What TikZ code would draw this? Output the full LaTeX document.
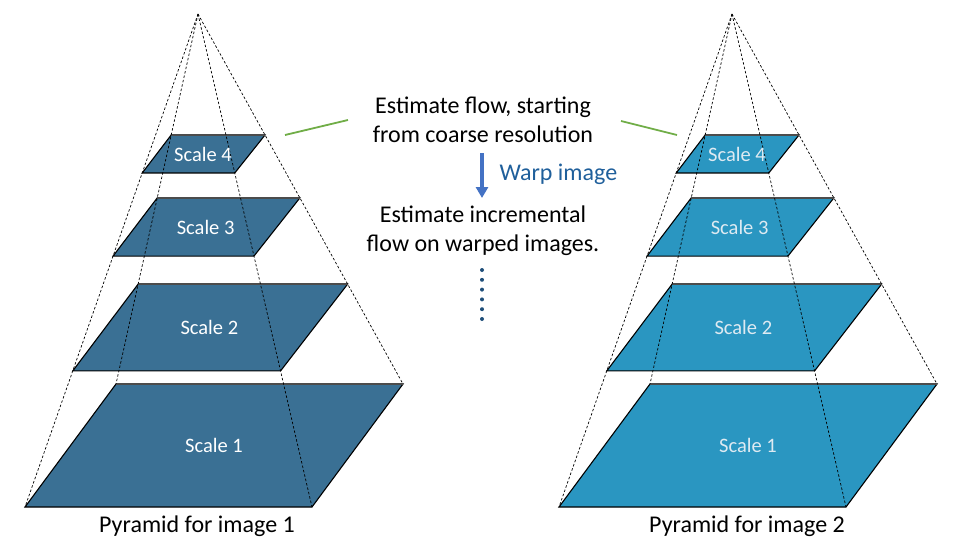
\documentclass[tikz,border=0pt]{standalone}
\usepackage{fontspec}
\setmainfont{Carlito}
\usetikzlibrary{calc,arrows.meta}

\definecolor{layerone}{RGB}{58,112,148}
\definecolor{layertwo}{RGB}{42,150,193}
\definecolor{labeltwo}{RGB}{222,234,242}
\definecolor{linkgreen}{RGB}{112,173,71}
\definecolor{warpblue}{RGB}{68,114,196}
\definecolor{warptext}{RGB}{31,95,155}
\definecolor{dotblue}{RGB}{31,78,121}

\tikzset{
  layeredge/.style={draw=black,line width=1.1pt},
  layertop/.style={draw=black!70,line width=1.8pt},
  guide/.style={line width=0.7pt,dash pattern=on 2.5pt off 2pt},
  scalelabel/.style={font=\fontsize{20.5}{24}\selectfont},
  caption/.style={font=\fontsize{24}{29}\selectfont,align=center},
}

\begin{document}
\begin{tikzpicture}[x=1pt,y=-1pt]
\useasboundingbox (0,0) rectangle (970,555);
%\draw[very thin,color=gray,step=50] (0,0) grid (970,555);
\foreach \p/\dx/\fillc/\txtc in {1/0/layerone/white,2/534/layertwo/labeltwo}{
  \begin{scope}[xshift=\dx]
  \coordinate (apex\p) at (198,14);
  \coordinate (tl\p) at (116,384);
  \coordinate (tr\p) at (403,384);
  \coordinate (br\p) at (312,507);
  \coordinate (bl\p) at (25,507);
  % layers, from the top one down
  \foreach \s/\tt/\tb in {4/0.327/0.3225,3/0.497/0.491,2/0.73/0.724,1/1/1}{
    \coordinate (a\p\s) at ($(apex\p)!\tt!(tl\p)$);
    \coordinate (b\p\s) at ($(apex\p)!\tt!(tr\p)$);
    \coordinate (c\p\s) at ($(apex\p)!\tb!(br\p)$);
    \coordinate (d\p\s) at ($(apex\p)!\tb!(bl\p)$);
    \filldraw[fill=\fillc,layeredge] (a\p\s) -- (b\p\s) -- (c\p\s) -- (d\p\s) -- cycle;
    \draw[layertop] (a\p\s) -- (b\p\s);
  }
  \draw[guide] (apex\p) -- (bl\p);
  \draw[guide] (apex\p) -- (tl\p);
  \draw[guide] (apex\p) -- (br\p);
  \draw[guide] (apex\p) -- (tr\p);
  \foreach \s in {4,3,2,1}
    \node[scalelabel,text=\txtc] (lab\p\s) at ($(a\p\s)!0.5!(c\p\s)$) {Scale \s};
  \end{scope}
}
\node[caption] (cap1) at (197,526) {Pyramid for image 1};
\node[caption] (cap2) at (747,526) {Pyramid for image 2};
\node[caption] (coarse) at (483,120) {Estimate flow, starting\\from coarse resolution};
\node[caption] (incr) at (483,231) {Estimate incremental\\flow on warped images.};
\coordinate (warptop) at (482,153);
\coordinate (warpend) at (482,198);
\draw[warpblue,line width=3.5pt,-{Triangle[length=11pt,width=12pt]}] (warptop) -- (warpend);
\node[caption,text=warptext,anchor=west] (warp) at (496,174) {Warp image};
\foreach \k in {0,...,5}
  \fill[dotblue] (482,270+\k*9.8) circle (2pt);
% green links to the coarse scale
\coordinate (gl1) at (285,135);
\coordinate (gl2) at (348,120);
\coordinate (gr1) at (621,121);
\coordinate (gr2) at (677,135);
\draw[linkgreen,line width=1.8pt] (gl1) -- (gl2);
\draw[linkgreen,line width=1.8pt] (gr1) -- (gr2);
\end{tikzpicture}
\end{document}
